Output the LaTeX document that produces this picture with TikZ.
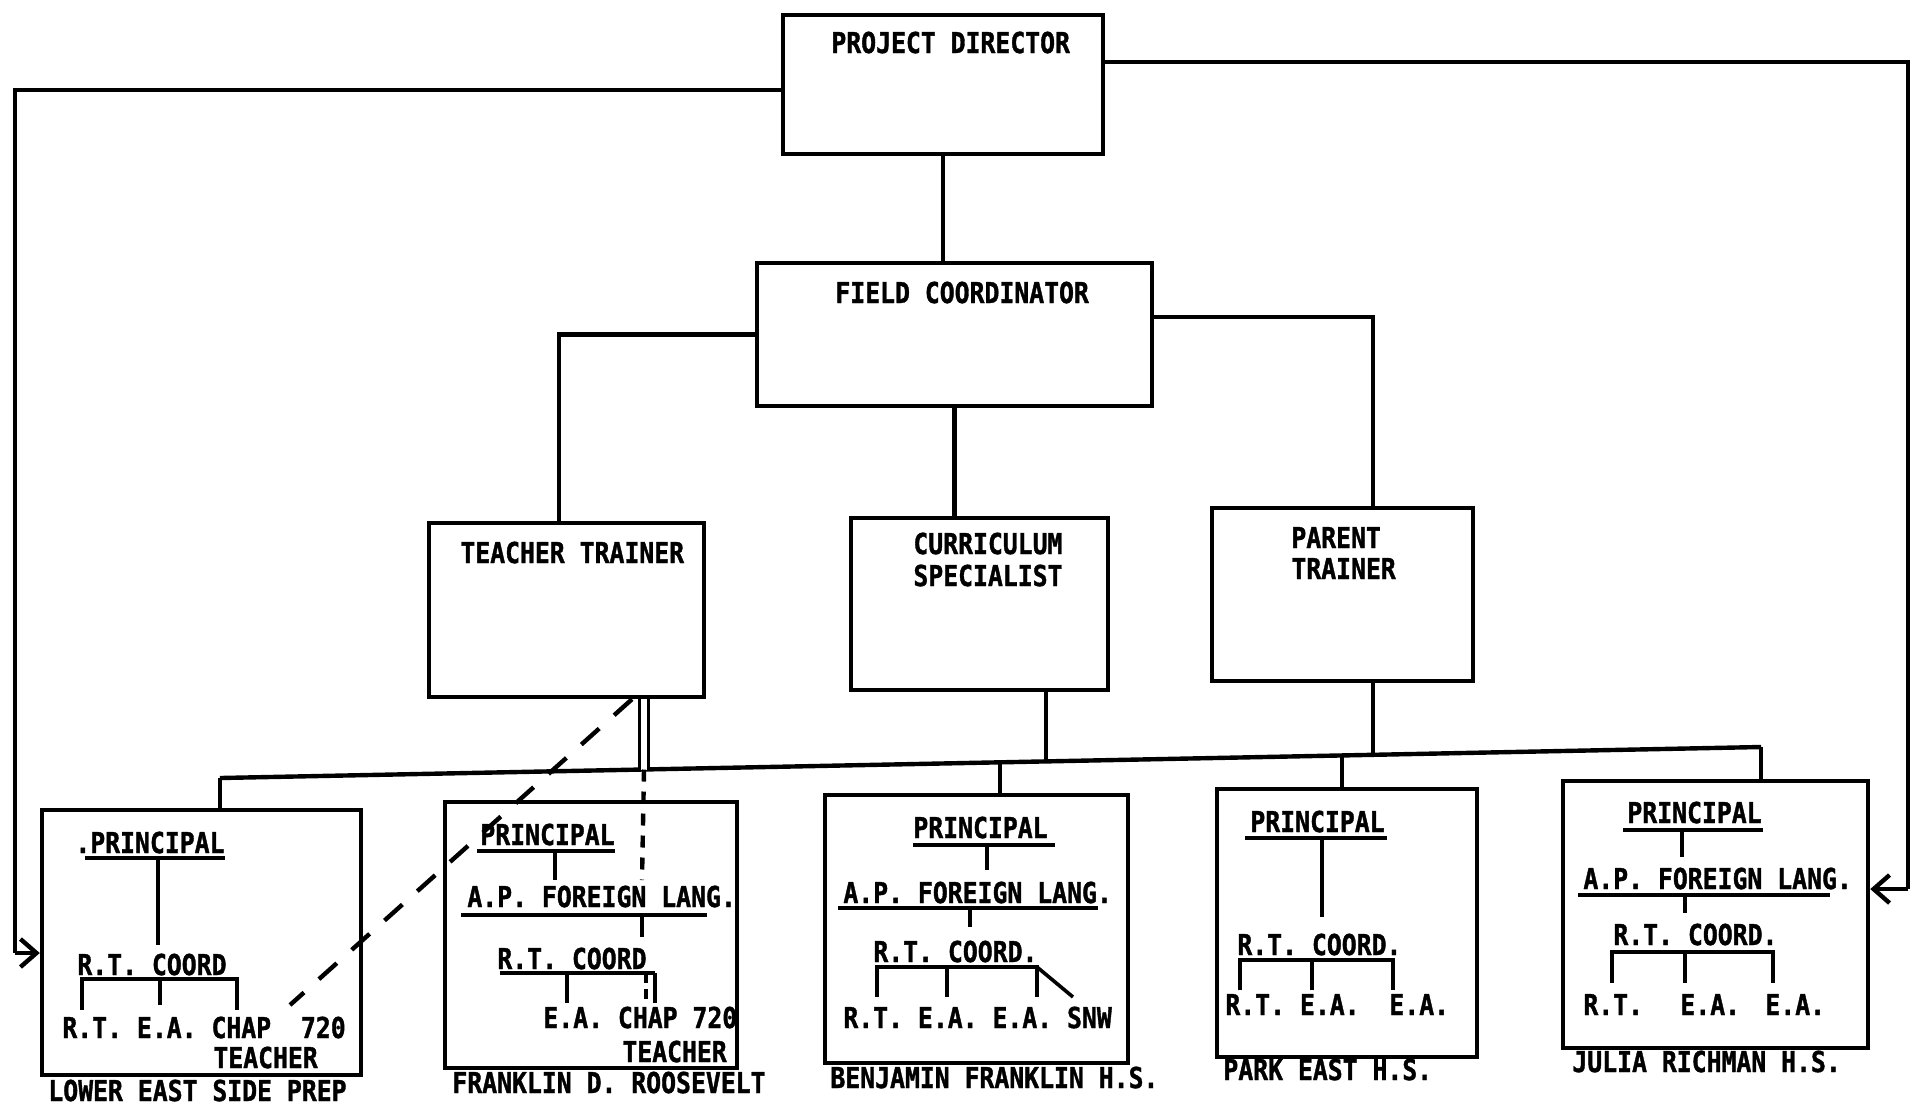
\documentclass[tikz,border=0pt]{standalone}
\usepackage{fontspec}
\setmainfont{DejaVu Sans Mono}[FakeStretch=0.86,FakeBold=1.2]
\usetikzlibrary{fit,arrows.meta}
\newcommand{\lbf}{\fontsize{14.4}{16}\selectfont\bfseries}
\begin{document}
\begin{tikzpicture}[x=0.5pt,y=-0.5pt,
  box/.style={draw, line width=2.2pt, inner sep=0pt},
  lbl/.style={font=\lbf, inner sep=0pt, anchor=base west},
  conn/.style={line width=2.2pt},
  ul/.style={line width=1.8pt},
  dsh/.style={line width=2.2pt, dash pattern=on 12pt off 10pt},
  vdsh/.style={line width=2.2pt, dash pattern=on 6pt off 5pt},
  arr/.style={line width=2.2pt, -{Straight Barb[length=8pt,width=14pt,line width=2.2pt]}}]
\useasboundingbox (0,0) rectangle (1914,1105);
\fill[white] (0,0) rectangle (1914,1105);

% ---- upper boxes
\node[box, fit={(783,15) (1103,154)}] (pd) {};
\node[box, fit={(757,263) (1152,406)}] (fc) {};
\node[box, fit={(429,523) (704,697)}] (tt) {};
\node[box, fit={(851,518) (1108,690)}] (cs) {};
\node[box, fit={(1212,508) (1473,681)}] (pt) {};

\node[lbl] (pdt) at (831,53) {PROJECT DIRECTOR};
\node[lbl] (fct) at (835,303) {FIELD COORDINATOR};
\node[lbl] (ttt) at (460,563) {TEACHER TRAINER};
\node[lbl] (cst1) at (913,554) {CURRICULUM};
\node[lbl] (cst2) at (913,586) {SPECIALIST};
\node[lbl] (ptt1) at (1291,548) {PARENT};
\node[lbl] (ptt2) at (1291,579) {TRAINER};

% ---- school boxes
\node[box, fit={(42,810) (361,1075)}] (b1) {};
\node[box, fit={(445,802) (737,1068)}] (b2) {};
\node[box, fit={(825,795) (1128,1063)}] (b3) {};
\node[box, fit={(1217,789) (1477,1057)}] (b4) {};
\node[box, fit={(1563,781) (1868,1048)}] (b5) {};

% ---- connectors
\draw[conn] (pd.south) -- (pd.south |- fc.north);
\draw[conn] (fc.west) -| (tt.north -| 559,0);
\draw[conn] (fc.east |- 0,317) -| (pt.north -| 1373,0);
\draw[conn] (fc.south) -- (fc.south |- cs.north);

\coordinate (L) at (15,953);
\coordinate (R) at (1908,889);
\draw[conn] (pd.west |- 0,90) -| (L);
\draw[arr] (L) -- (b1.west |- L);
\draw[conn] (pd.east |- 0,62) -| (R);
\draw[arr] (R) -- (b5.east |- R);

% bus
\coordinate (j1) at (220,778);
\coordinate (j2) at (644,769.5);
\coordinate (j3) at (1000,762.3);
\coordinate (jc) at (1046,761.4);
\coordinate (j4) at (1342,755.4);
\coordinate (jp) at (1373,754.8);
\coordinate (j5) at (1761,747);
\draw[conn] (j1) -- (j5);
\draw[conn] (j1) -- (b1.north -| j1);
\draw[conn] (j3) -- (b3.north -| j3);
\draw[conn] (j4) -- (b4.north -| j4);
\draw[conn] (j5) -- (b5.north -| j5);
\draw[conn] (cs.south -| jc) -- (jc);
\draw[conn] (pt.south -| jp) -- (jp);
\draw[line width=1.6pt, double distance=3pt] (tt.south -| j2) -- (j2);
\draw[vdsh] (j2) -- (642,880);
\coordinate (dd) at (290,1005);
\draw[dsh] (tt.south -| 632,0) -- (dd);

% ---- box 1
\node[lbl] (p1) at (75,853) {.PRINCIPAL};
\draw[ul] (85,858) -- (225,858);
\draw[ul] (158,858) -- (158,945);
\node[lbl] (c1) at (77,975) {R.T. COORD};
\draw[ul] (82,1010) -- (82,979) -- (237,979) -- (237,1010);
\draw[ul] (160,979) -- (160,1005);
\node[lbl] (s1) at (62,1038) {R.T. E.A. CHAP~~720};
\node[lbl] (s1b) at (213,1068) {TEACHER};
\node[lbl] (n1) at (48,1101) {LOWER EAST SIDE PREP};

% ---- box 2
\node[lbl] (p2) at (480,845) {PRINCIPAL};
\draw[ul] (477,851) -- (615,851);
\draw[ul] (555,851) -- (555,880);
\node[lbl] (a2) at (467,907) {A.P. FOREIGN LANG.};
\draw[ul] (461,915) -- (707,915);
\draw[ul] (642,915) -- (642,937);
\node[lbl] (c2) at (497,969) {R.T. COORD};
\draw[ul] (500,973) -- (655,973);
\draw[ul] (567,1003) -- (567,973);
\draw[ul] (655,973) -- (655,1003);
\draw[ul, dash pattern=on 5pt off 3pt] (646,973) -- (646,1003);
\node[lbl] (s2) at (543,1028) {E.A. CHAP 720};
\node[lbl] (s2b) at (622,1062) {TEACHER};
\node[lbl] (n2) at (452,1093) {FRANKLIN D. ROOSEVELT};

% ---- box 3
\node[lbl] (p3) at (913,838) {PRINCIPAL};
\draw[ul] (913,845) -- (1055,845);
\draw[ul] (987,845) -- (987,870);
\node[lbl] (a3) at (843,903) {A.P. FOREIGN LANG.};
\draw[ul] (838,908) -- (1098,908);
\draw[ul] (970,908) -- (970,927);
\node[lbl] (c3) at (873,962) {R.T. COORD.};
\draw[ul] (877,997) -- (877,967) -- (1037,967) -- (1037,997);
\draw[ul] (947,967) -- (947,997);
\draw[ul] (1037,967) -- (1073,997);
\node[lbl] (s3) at (843,1028) {R.T. E.A. E.A. SNW};
\node[lbl] (n3) at (830,1088) {BENJAMIN FRANKLIN H.S.};

% ---- box 4
\node[lbl] (p4) at (1250,832) {PRINCIPAL};
\draw[ul] (1245,838) -- (1387,838);
\draw[ul] (1322,838) -- (1322,917);
\node[lbl] (c4) at (1237,955) {R.T. COORD.};
\draw[ul] (1240,990) -- (1240,960) -- (1393,960) -- (1393,990);
\draw[ul] (1312,960) -- (1312,990);
\node[lbl] (s4) at (1225,1015) {R.T. E.A.~~E.A.};
\node[lbl] (n4) at (1223,1080) {PARK EAST H.S.};

% ---- box 5
\node[lbl] (p5) at (1627,823) {PRINCIPAL};
\draw[ul] (1623,830) -- (1763,830);
\draw[ul] (1682,830) -- (1682,857);
\node[lbl] (a5) at (1583,889) {A.P. FOREIGN LANG.};
\draw[ul] (1578,895) -- (1830,895);
\draw[ul] (1685,895) -- (1685,913);
\node[lbl] (c5) at (1613,945) {R.T. COORD.};
\draw[ul] (1612,983) -- (1612,952) -- (1773,952) -- (1773,983);
\draw[ul] (1685,952) -- (1685,983);
\node[lbl] (s5a) at (1583,1015) {R.T.};
\node[lbl] (s5b) at (1680,1015) {E.A.};
\node[lbl] (s5c) at (1765,1015) {E.A.};
\node[lbl] (n5) at (1572,1072) {JULIA RICHMAN H.S.};
\end{tikzpicture}
\end{document}
